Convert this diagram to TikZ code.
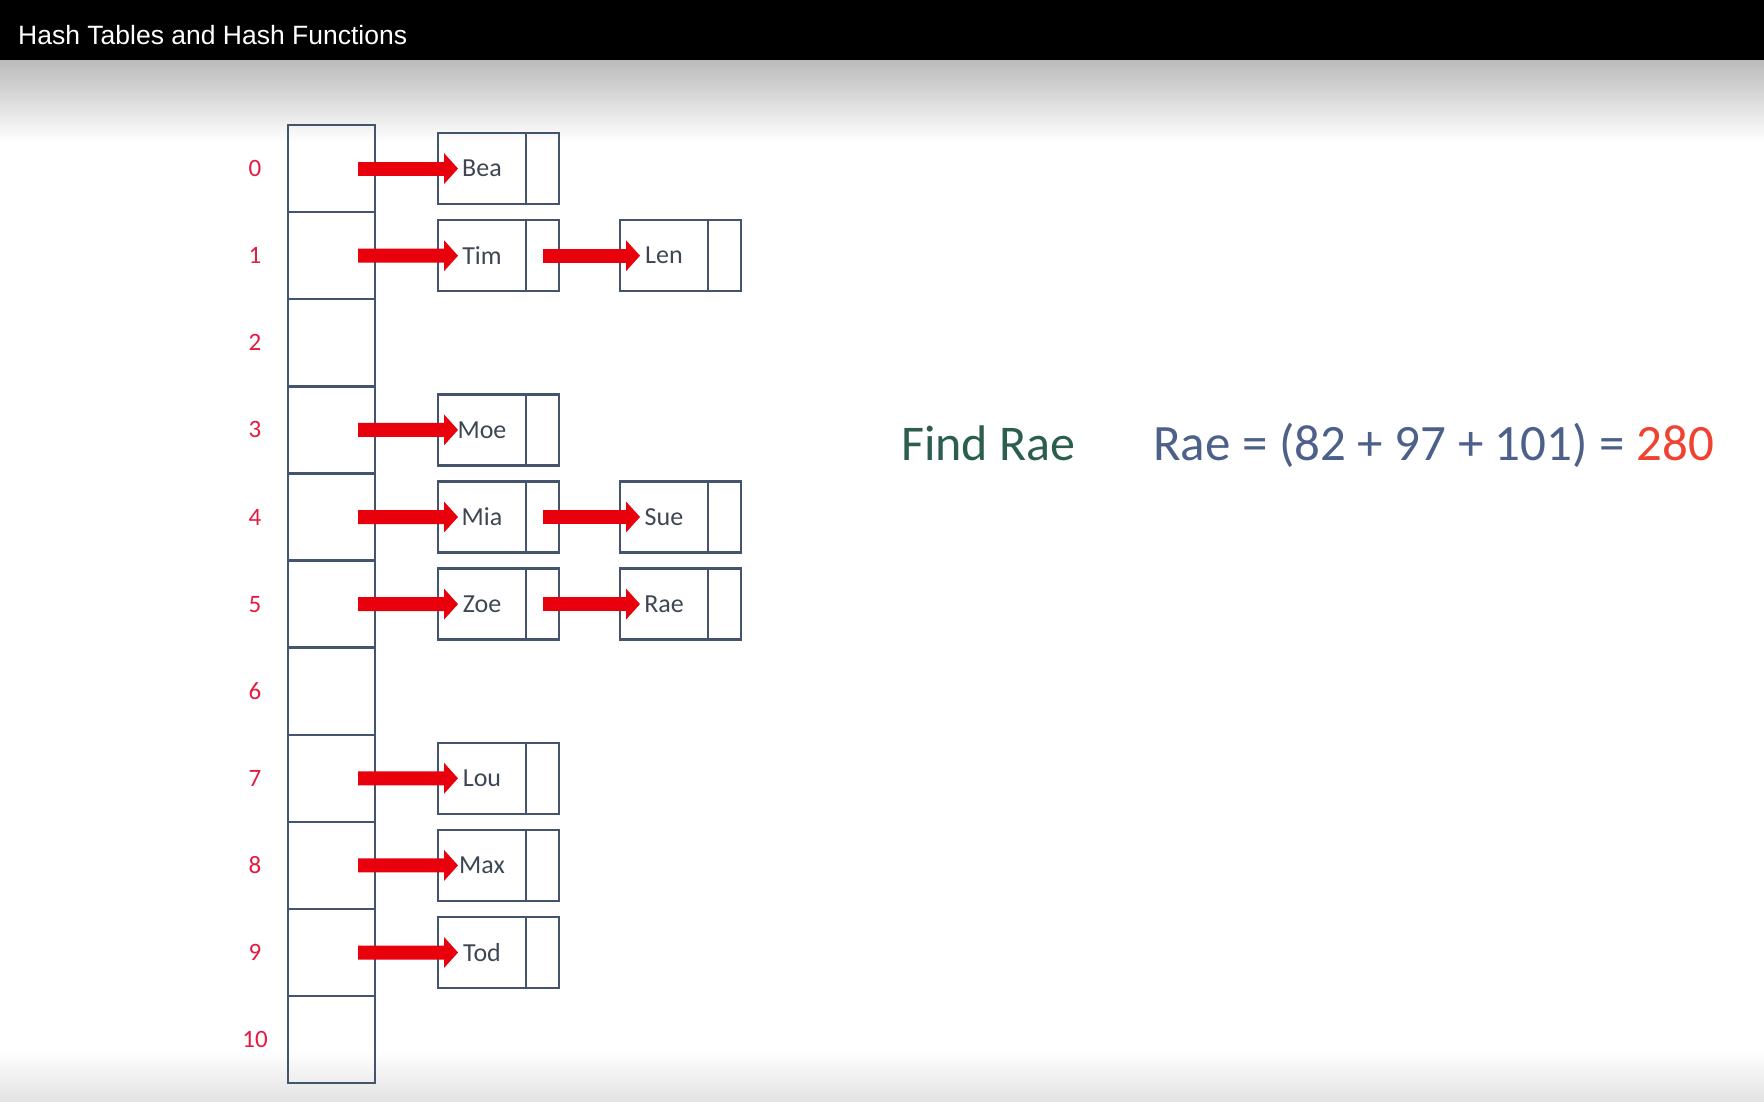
\documentclass[tikz,border=0pt]{standalone}
\usepackage{fontspec}
\setmainfont{Carlito}
\newfontfamily\titlefont{Liberation Sans}
\usetikzlibrary{arrows.meta}
\definecolor{boxline}{RGB}{68,84,108}
\definecolor{nametext}{RGB}{62,70,84}
\definecolor{idxred}{RGB}{228,26,64}
\definecolor{arrowred}{RGB}{232,0,12}
\definecolor{findgreen}{RGB}{44,94,80}
\definecolor{eqblue}{RGB}{76,96,138}
\definecolor{sumred}{RGB}{240,66,48}
\begin{document}
\begin{tikzpicture}[x=1pt,y=-1pt,
  slot/.style={draw=boxline,line width=2.4pt,minimum width=87pt,minimum height=87.1pt,inner sep=0pt,outer sep=0pt},
  item/.style={draw=boxline,line width=2.4pt,minimum width=88pt,minimum height=71pt,inner sep=0pt,outer sep=0pt,
    text=nametext,font=\fontsize{26}{30}\selectfont},
  nxt/.style={draw=boxline,line width=2.4pt,minimum width=33pt,minimum height=71pt,inner sep=0pt,outer sep=0pt,anchor=west},
  idx/.style={text=idxred,font=\fontsize{25}{30}\selectfont,inner sep=0pt},
  link/.style={draw=arrowred,line width=14pt,-{Triangle[length=14pt,width=31pt,line width=0pt]}}]
  \useasboundingbox (0,0) rectangle (1764,1101);
  \fill[black] (0,0) rectangle (1764,60);
  \shade[top color=black!27,bottom color=white] (0,60) rectangle (1764,142);
  \shade[top color=white,bottom color=black!11] (0,1050) rectangle (1764,1101);
  \node[anchor=west,inner sep=0pt,text=white,font=\titlefont\fontsize{26.5}{30}\selectfont] (title) at (18,35)
    {Hash Tables and Hash Functions};

  \foreach \i in {0,...,10} {
    \node[slot] (c\i) at (331.5,{168.6+87.1*\i}) {};
    \node[idx] (n\i) at (255,{168.6+87.1*\i}) {\i};
  }

  \path (482,168.6) node[item] (bea) {Bea} (482,255.7) node[item] (tim) {Tim}
  (482,429.9) node[item] (moe) {Moe} (482,517.0) node[item] (mia) {Mia}
  (482,604.1) node[item] (zoe) {Zoe} (482,778.3) node[item] (lou) {Lou}
  (482,865.4) node[item] (max) {Max} (482,952.5) node[item] (tod) {Tod}
  (664,255.7) node[item] (len) {Len} (664,517.0) node[item] (sue) {Sue}
  (664,604.1) node[item] (rae) {Rae};
  \foreach \n in {bea,tim,moe,mia,zoe,lou,max,tod,len,sue,rae}
    \node[nxt] (\n-nx) at (\n.east) {};

  \draw[link] ([xshift=-17pt]c0.east) -- ([xshift=20pt]bea.west);
  \draw[link] ([xshift=-17pt]c1.east) -- ([xshift=20pt]tim.west);
  \draw[link] ([xshift=-17pt]c3.east) -- ([xshift=20pt]moe.west);
  \draw[link] ([xshift=-17pt]c4.east) -- ([xshift=20pt]mia.west);
  \draw[link] ([xshift=-17pt]c5.east) -- ([xshift=20pt]zoe.west);
  \draw[link] ([xshift=-17pt]c7.east) -- ([xshift=20pt]lou.west);
  \draw[link] ([xshift=-17pt]c8.east) -- ([xshift=20pt]max.west);
  \draw[link] ([xshift=-17pt]c9.east) -- ([xshift=20pt]tod.west);
  \draw[link] ([xshift=-16pt]tim-nx.east) -- ([xshift=20pt]len.west);
  \draw[link] ([xshift=-16pt]mia-nx.east) -- ([xshift=20pt]sue.west);
  \draw[link] ([xshift=-16pt]zoe-nx.east) -- ([xshift=20pt]rae.west);

  \node[anchor=base west,inner sep=0pt,text=findgreen,font=\fontsize{50}{60}\selectfont] (find) at (901,460) {Find Rae};
  \node[anchor=base west,inner sep=0pt,text=eqblue,font=\fontsize{51}{60}\selectfont] (eq) at (1153,460)
    {Rae = (82 + 97 + 101) = \textcolor{sumred}{280}};
\end{tikzpicture}
\end{document}
